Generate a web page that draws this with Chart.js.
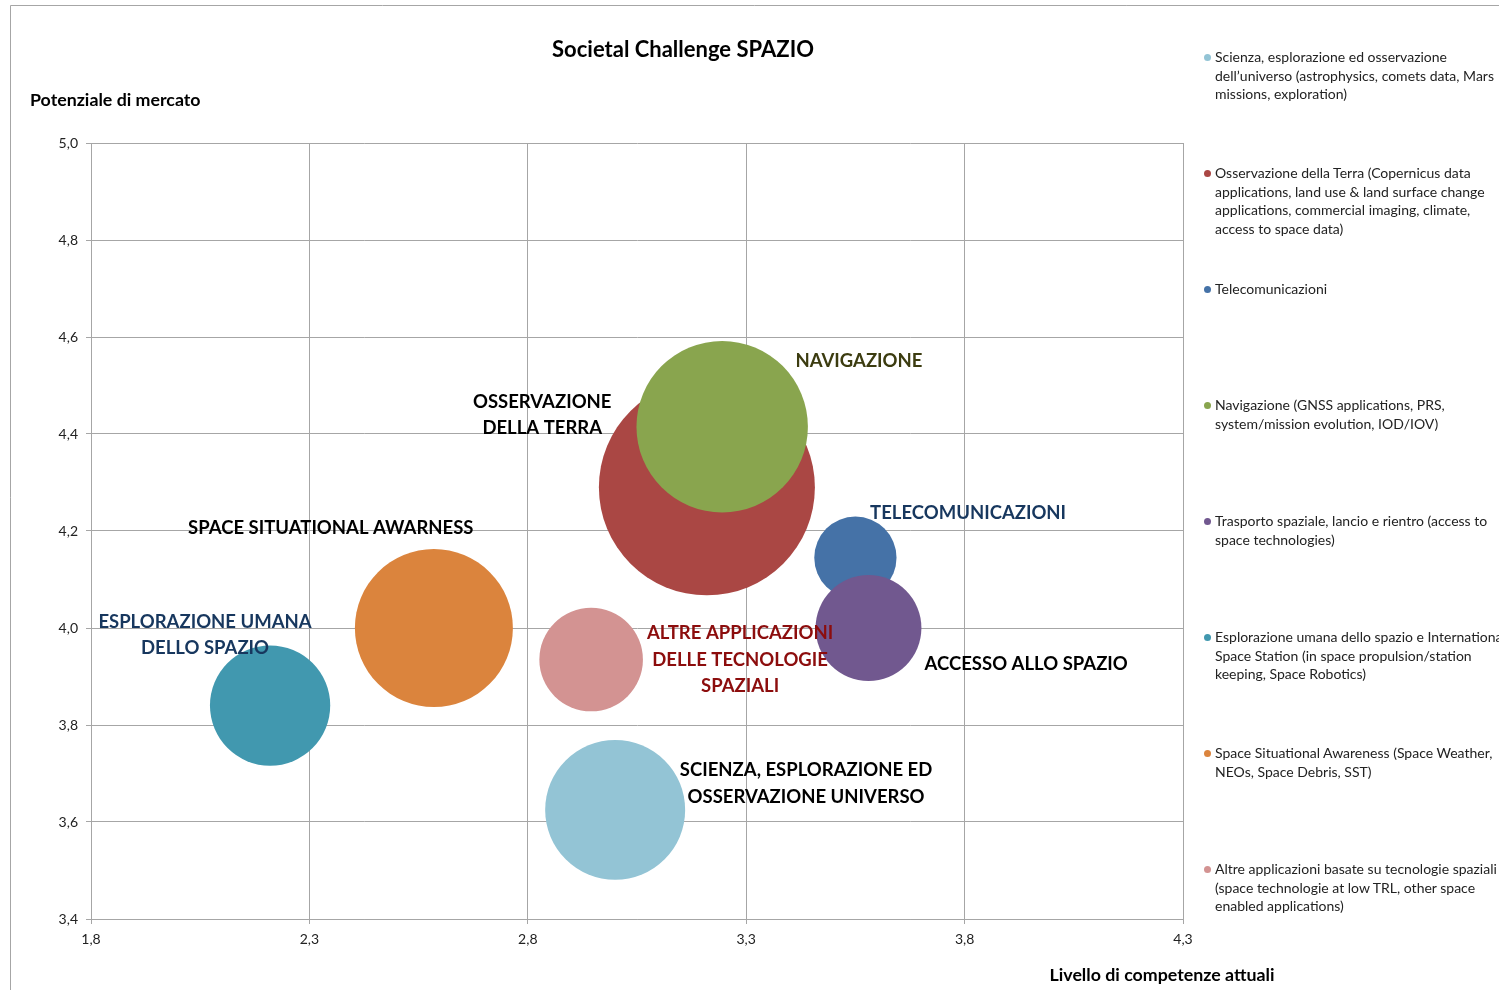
<!DOCTYPE html>
<html>
<head>
<meta charset="utf-8">
<script src="https://cdn.jsdelivr.net/npm/chart.js@4.4.1/dist/chart.umd.min.js"></script>
<style>
  body { margin: 0; background: #fff; overflow: hidden; }
  #wrap { position: relative; width: 1499px; height: 990px; }
  #legenda { position: absolute; left: 1203px; top: 48px; width: 300px; font-family: Lato, "Open Sans", sans-serif; font-size: 14px; color: #222; white-space: nowrap; }
  .voce { position: absolute; left: 0; line-height: 18.5px; padding-left: 12px; }
  .voce span.pallino { position: absolute; left: 1px; top: 6px; width: 7px; height: 7px; border-radius: 50%; }
</style>
</head>
<body>
<div id="wrap">
  <canvas id="myChart" width="1499" height="990"></canvas>
  <div id="legenda"></div>
</div>
<script>
const settori = ["Scienza", "Osservazione della Terra", "Telecomunicazioni", "Navigazione", "Trasporto spaziale", "Esplorazione umana", "Space Situational Awareness", "Altre applicazioni"];
const competenze = [3.00, 3.21, 3.55, 3.245, 3.58, 2.21, 2.585, 2.945];
const potenziale = [3.625, 4.29, 4.145, 4.415, 4.00, 3.84, 4.00, 3.935];
const dimensione = [42, 100, 14.5, 63, 24, 31, 53.5, 23];
const colori = ["#93C4D5", "#AA4744", "#4572A7", "#89A54E", "#71588F", "#4198AF", "#DB843D", "#D39392"];

const legendaTesti = [
  ["Scienza, esplorazione ed osservazione", "dell\u2019universo (astrophysics, comets data, Mars", "missions, exploration)"],
  ["Osservazione della Terra (Copernicus data", "applications, land use & land surface change", "applications, commercial imaging, climate,", "access to space data)"],
  ["Telecomunicazioni"],
  ["Navigazione (GNSS applications, PRS,", "system/mission evolution, IOD/IOV)"],
  ["Trasporto spaziale, lancio e rientro (access to", "space technologies)"],
  ["Esplorazione umana dello spazio e International", "Space Station (in space propulsion/station", "keeping, Space Robotics)"],
  ["Space Situational Awareness (Space Weather,", "NEOs, Space Debris, SST)"],
  ["Altre applicazioni basate su tecnologie spaziali", "(space technologie at low TRL, other space", "enabled applications)"]
];

// etichette sul grafico (posizione in unita' dei dati)
const etichette = [
  { testo: ["NAVIGAZIONE"], x: 3.558, y: 4.55, colore: "#3C3C10" },
  { testo: ["OSSERVAZIONE", "DELLA TERRA"], x: 2.833, y: 4.439, colore: "#000" },
  { testo: ["TELECOMUNICAZIONI"], x: 3.808, y: 4.237, colore: "#17375E" },
  { testo: ["SPACE SITUATIONAL AWARNESS"], x: 2.349, y: 4.206, colore: "#000" },
  { testo: ["ESPLORAZIONE UMANA", "DELLO SPAZIO"], x: 2.061, y: 3.985, colore: "#17375E" },
  { testo: ["ALTRE APPLICAZIONI", "DELLE TECNOLOGIE", "SPAZIALI"], x: 3.286, y: 3.934, colore: "#8C0D0D" },
  { testo: ["ACCESSO ALLO SPAZIO"], x: 3.941, y: 3.926, colore: "#000" },
  { testo: ["SCIENZA, ESPLORAZIONE ED", "OSSERVAZIONE UNIVERSO"], x: 3.437, y: 3.679, colore: "#000" }
];

const FONT = "Lato, 'Open Sans', sans-serif";
const maxDim = Math.max(...dimensione);
const raggio = d => 108 * Math.sqrt(d / maxDim);

// legenda html
const leg = document.getElementById("legenda");
legendaTesti.forEach((righe, i) => {
  const d = document.createElement("div");
  d.className = "voce";
  d.style.top = (i * 116) + "px";
  d.innerHTML = '<span class="pallino" style="background:' + colori[i] + '"></span>' + righe.join("<br>");
  leg.appendChild(d);
});

const datasets = settori.map((s, i) => ({
  label: s,
  data: [{ x: competenze[i], y: potenziale[i], r: raggio(dimensione[i]) }],
  backgroundColor: colori[i],
  borderWidth: 0,
  hoverBorderWidth: 0,
  order: settori.length - i
}));

const virgola = v => Number(v).toFixed(1).replace(".", ",");

const testiPlugin = {
  id: "testi",
  beforeDraw(chart) {
    const c = chart.ctx;
    c.save();
    c.strokeStyle = "#A6A6A6";
    c.lineWidth = 1;
    c.beginPath();
    c.moveTo(10.5, 990);
    c.lineTo(10.5, 5.5);
    c.lineTo(1499, 5.5);
    c.stroke();
    c.restore();
  },
  afterDatasetsDraw(chart) {
    const c = chart.ctx;
    const xs = chart.scales.x, ys = chart.scales.y;
    c.save();
    c.textAlign = "center";
    c.textBaseline = "middle";
    c.font = "bold 18.5px " + FONT;
    etichette.forEach(e => {
      const px = xs.getPixelForValue(e.x);
      const py = ys.getPixelForValue(e.y);
      c.fillStyle = e.colore;
      const n = e.testo.length;
      e.testo.forEach((t, k) => {
        c.fillText(t, px, py + (k - (n - 1) / 2) * 26.5);
      });
    });
    c.fillStyle = "#000";
    c.font = "bold 22px " + FONT;
    c.fillText("Societal Challenge SPAZIO", 683, 50);
    c.font = "bold 17.8px " + FONT;
    c.textAlign = "left";
    c.fillText("Potenziale di mercato", 30, 100);
    c.textAlign = "center";
    c.fillText("Livello di competenze attuali", 1162, 975);
    c.restore();
  }
};

const ctx = document.getElementById("myChart");
new Chart(ctx, {
  type: "bubble",
  data: { datasets: datasets },
  options: {
    responsive: false,
    animation: false,
    layout: { autoPadding: false, padding: { left: 0, top: 143, right: 316, bottom: 0 } },
    plugins: {
      legend: { display: false },
      tooltip: { enabled: false },
      title: { display: false }
    },
    scales: {
      x: {
        type: "linear",
        min: 1.8,
        max: 4.3,
        afterFit: s => { s.height = 71; },
        grid: { color: "#A6A6A6", tickLength: 5, tickColor: "#A6A6A6" },
        border: { color: "#A6A6A6" },
        ticks: { stepSize: 0.5, padding: 7, color: "#222", font: { family: FONT, size: 14 }, callback: virgola }
      },
      y: {
        type: "linear",
        min: 3.4,
        max: 5.0,
        afterFit: s => { s.width = 91; },
        grid: { color: "#A6A6A6", tickLength: 5, tickColor: "#A6A6A6" },
        border: { color: "#A6A6A6" },
        ticks: { stepSize: 0.2, padding: 8, color: "#222", font: { family: FONT, size: 14 }, callback: virgola }
      }
    }
  },
  plugins: [testiPlugin]
});
</script>
</body>
</html>
